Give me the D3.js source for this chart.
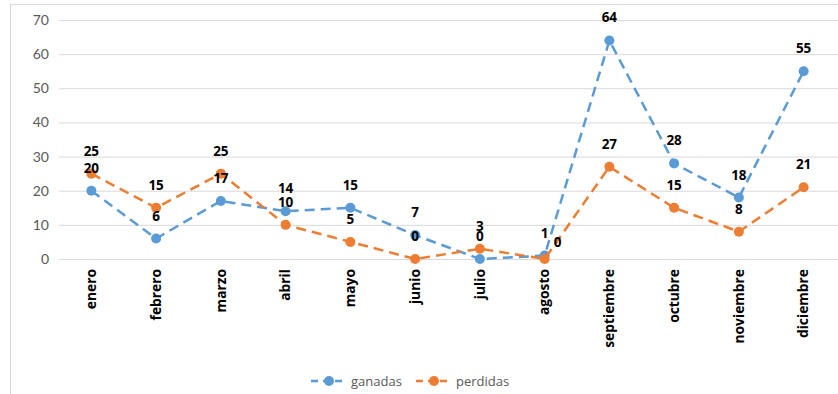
<!DOCTYPE html>
<html>
<head>
<meta charset="utf-8">
<script src="https://cdn.jsdelivr.net/npm/d3@7"></script>
<style>
  body { margin: 0; background: #fff; }
  svg { display: block; }
</style>
</head>
<body>
<script>
var meses = ["enero", "febrero", "marzo", "abril", "mayo", "junio", "julio", "agosto",
  "septiembre", "octubre", "noviembre", "diciembre"];
var ganadas = [20, 6, 17, 14, 15, 7, 0, 1, 64, 28, 18, 55];
var perdidas = [25, 15, 25, 10, 5, 0, 3, 0, 27, 15, 8, 21];
var yTicks = [0, 10, 20, 30, 40, 50, 60, 70];

var series = [
  { name: "ganadas", values: ganadas, color: "#5B9BD5" },
  { name: "perdidas", values: perdidas, color: "#ED7D31" }
];

var w = 838, h = 394;
var margin = { top: 20, right: 2, bottom: 135, left: 59 };

var x = d3.scaleBand()
  .domain(meses)
  .range([margin.left, w - margin.right]);

var y = d3.scaleLinear()
  .domain([0, 70])
  .range([h - margin.bottom, margin.top]);

var svg = d3.select("body").append("svg")
  .attr("width", w)
  .attr("height", h);

svg.append("rect")
  .attr("x", 10.5).attr("y", 4.5)
  .attr("width", w).attr("height", h)
  .attr("fill", "none")
  .attr("stroke", "#d9d9d9");

// gridlines + y labels
var yAxis = d3.axisLeft(y)
  .tickValues(yTicks)
  .tickSize(-(w - margin.left))
  .tickPadding(10);

var gy = svg.append("g")
  .attr("transform", "translate(" + margin.left + ",0)")
  .call(yAxis);
gy.select(".domain").remove();
gy.selectAll(".tick line").attr("stroke", "#d9d9d9").attr("stroke-width", 1);
gy.selectAll(".tick text")
  .attr("fill", "#595959")
  .style("font-family", "Lato, 'Open Sans', sans-serif")
  .style("font-size", "14px");

// x labels
var xAxis = d3.axisBottom(x).tickSize(0).tickPadding(0);
var gx = svg.append("g")
  .attr("transform", "translate(0," + y(0) + ")")
  .call(xAxis);
gx.select(".domain").remove();
gx.selectAll(".tick text")
  .attr("transform", "rotate(-90)")
  .attr("x", -10)
  .attr("y", 0)
  .attr("dy", "0.35em")
  .style("text-anchor", "end")
  .attr("fill", "#000")
  .style("font-family", "'Open Sans', sans-serif")
  .style("font-weight", "bold")
  .style("font-size", "13.8px");

var line = d3.line()
  .x(function (d, i) { return x(meses[i]) + x.bandwidth() / 2; })
  .y(function (d) { return y(d); });

series.forEach(function (s) {
  svg.append("path")
    .datum(s.values)
    .attr("fill", "none")
    .attr("stroke", s.color)
    .attr("stroke-width", 2.5)
    .attr("stroke-dasharray", "10,6")
    .attr("d", line);

  svg.append("g").selectAll("circle")
    .data(s.values)
    .join("circle")
    .attr("cx", function (d, i) { return x(meses[i]) + x.bandwidth() / 2; })
    .attr("cy", function (d) { return y(d); })
    .attr("r", 5)
    .attr("fill", s.color);
});

series.forEach(function (s) {
  svg.append("g").selectAll("text")
    .data(s.values)
    .join("text")
    .attr("x", function (d, i) {
      var cx = x(meses[i]) + x.bandwidth() / 2;
      return (s.name === "perdidas" && meses[i] === "agosto") ? cx + 9 : cx;
    })
    .attr("y", function (d, i) {
      return (s.name === "perdidas" && meses[i] === "agosto") ? y(d) - 12 : y(d) - 18;
    })
    .attr("text-anchor", function (d, i) {
      return (s.name === "perdidas" && meses[i] === "agosto") ? "start" : "middle";
    })
    .attr("fill", "#000")
    .style("font-family", "'Open Sans', sans-serif")
    .style("font-weight", "bold")
    .style("font-size", "13.5px")
    .text(function (d) { return d; });
});

// legend
var legend = svg.append("g")
  .attr("transform", "translate(311,381)");
series.forEach(function (s, i) {
  var g = legend.append("g").attr("transform", "translate(" + (i * 105) + ",0)");
  g.append("line")
    .attr("x1", 0).attr("x2", 35)
    .attr("stroke", s.color)
    .attr("stroke-width", 2.5)
    .attr("stroke-dasharray", "7,5");
  g.append("circle").attr("cx", 18).attr("r", 5).attr("fill", s.color);
  g.append("text")
    .attr("x", 40)
    .attr("dy", "0.35em")
    .attr("fill", "#595959")
    .style("font-family", "'Open Sans', sans-serif")
    .style("font-size", "13px")
    .text(s.name);
});
</script>
</body>
</html>
